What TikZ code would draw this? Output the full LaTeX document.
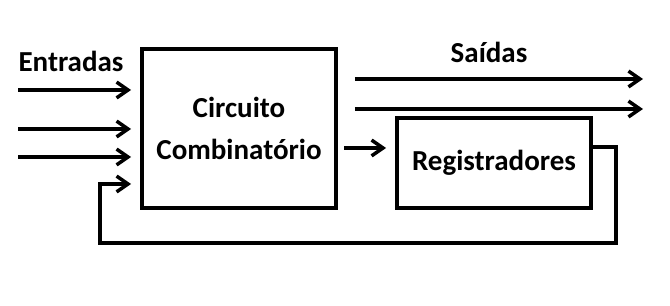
\documentclass[tikz,border=0pt]{standalone}
\usepackage{fontspec}
\setmainfont{Carlito}
\usetikzlibrary{arrows.meta}

\tikzset{
    bloco/.style={draw,line width=2.2pt,rectangle,align=center,font=\bfseries\fontsize{16.5}{24}\selectfont},
    seta/.style={line width=2.2pt,-{Straight Barb[length=6.5pt,width=9pt,line width=2pt]}},
    fio/.style={line width=2.2pt},
    rotulo/.style={font=\bfseries\fontsize{16.5}{19}\selectfont}
}

\begin{document}
\begin{tikzpicture}[x=0.02cm,y=-0.02cm]
    \useasboundingbox (0,0) rectangle (670,306);

    % Blocks
    \node[bloco,minimum width=3.88cm,minimum height=3.18cm] (comb) at (239,128.5) {Circuito\\Combinatório};
    \node[bloco,minimum width=3.88cm,minimum height=1.8cm] (reg) at (494,163) {Registradores};

    % Labels
    \node[rotulo] (entradas) at (71,61) {Entradas};
    \node[rotulo] (saidas) at (489,52) {Saídas};

    % Inputs
    \foreach \y [count=\i] in {90,129,157} {
        \coordinate (in\i) at (18,\y);
        \draw[seta,shorten >=0.18cm] (in\i) -- (in\i -| comb.west);
    }

    % Outputs
    \foreach \y [count=\i] in {79,109} {
        \coordinate (out\i) at (643,\y);
        \draw[seta,shorten <=0.34cm] (out\i -| comb.east) -- (out\i);
    }

    % Combinational -> registers
    \coordinate (mid) at (344,148);
    \draw[seta,shorten >=0.18cm] (mid) -- (mid -| reg.west);

    % Feedback loop
    \coordinate (fb1) at (616,147);
    \coordinate (fb2) at (616,243);
    \coordinate (fb3) at (100,243);
    \coordinate (fb4) at (100,184);
    \draw[seta,shorten >=0.18cm] (fb1 -| reg.east) -- (fb1) -- (fb2) -- (fb3) -- (fb4) -- (fb4 -| comb.west);
\end{tikzpicture}
\end{document}
